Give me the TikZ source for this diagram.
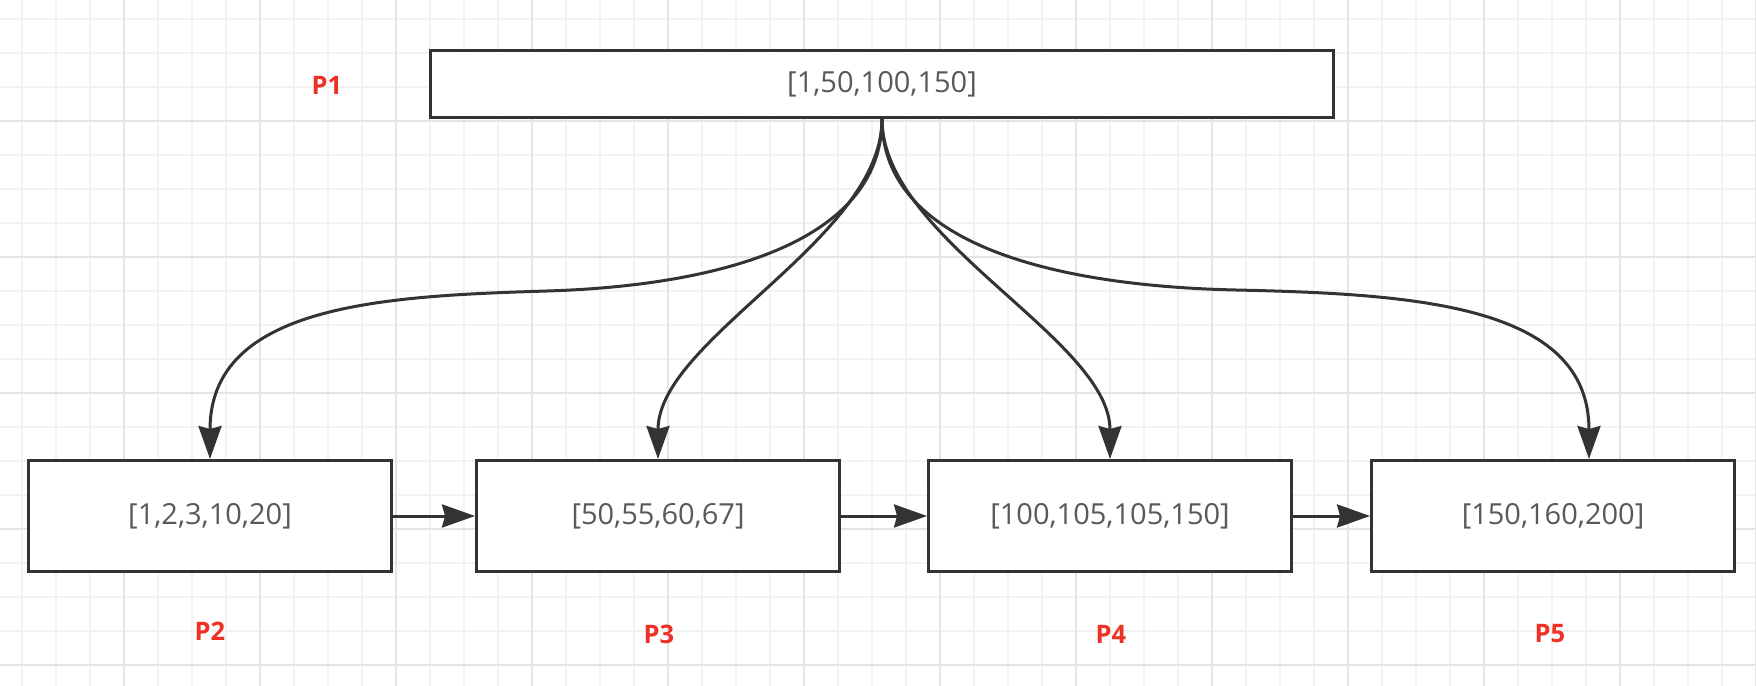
\documentclass[tikz,border=0pt]{standalone}
\usepackage{fontspec}
\setmainfont{Open Sans}
\usetikzlibrary{arrows.meta}
\definecolor{gridminor}{HTML}{F2F2F2}
\definecolor{gridmajor}{HTML}{E4E4E4}
\definecolor{edgegray}{HTML}{333333}
\definecolor{textgray}{HTML}{595959}
\definecolor{pagered}{HTML}{EE3124}
\tikzset{
  pagebox/.style={draw=edgegray, line width=0.06cm, fill=white, text=textgray,
    font=\fontsize{16.5}{20}\selectfont, inner sep=0pt},
  plabel/.style={text=pagered, font=\fontsize{14.5}{17}\selectfont\bfseries},
  link/.style={draw=edgegray, line width=0.06cm,
    -{Stealth[length=0.66cm,width=0.46cm,inset=0.06cm]}},
}
\begin{document}
\begin{tikzpicture}[x=0.02cm,y=-0.02cm]
\useasboundingbox (0,0) rectangle (1756,686);
\fill[white] (0,0) rectangle (1756,686);
\foreach \x in {22,56,...,1756} % minor grid
\draw[gridminor, line width=0.03cm] (\x,0) -- (\x,686);
\foreach \y in {19,53,...,686}
\draw[gridminor, line width=0.03cm] (0,\y) -- (1756,\y);
\foreach \x in {124,260,...,1756} % major grid
\draw[gridmajor, line width=0.03cm] (\x,0) -- (\x,686);
\foreach \y in {121,257,...,686}
\draw[gridmajor, line width=0.03cm] (0,\y) -- (1756,\y);
% pages
\node[pagebox, minimum width=18.08cm, minimum height=1.34cm] (p1) at (882,84) {[1,50,100,150]};
\node[pagebox, minimum width=7.26cm, minimum height=2.22cm] (b1) at (210,516) {[1,2,3,10,20]};
\node[pagebox, minimum width=7.26cm, minimum height=2.22cm] (b2) at (658,516) {[50,55,60,67]};
\node[pagebox, minimum width=7.26cm, minimum height=2.22cm] (b3) at (1110,516) {[100,105,105,150]};
\node[pagebox, minimum width=7.26cm, minimum height=2.22cm] (b4) at (1553,516) {[150,160,200]};
% labels
\node[plabel] (l1) at (327,85) {P1};
\node[plabel] (l2) at (210,631) {P2};
\node[plabel] (l3) at (659,634) {P3};
\node[plabel] (l4) at (1111,634) {P4};
\node[plabel] (l5) at (1550,634) {P5};
% links
\coordinate (m2) at (547,291);
\coordinate (m5) at (1236,290);
\coordinate (t5) at (1589,459);
\draw[link] (p1.south) .. controls +(0,126) and +(165,-5) .. (m2)
  .. controls +(-165,5) and +(0,-154) .. (b1.north);
\draw[link] (p1.south) .. controls +(0,120) and +(0,-120) .. (b2.north);
\draw[link] (p1.south) .. controls +(0,120) and +(0,-120) .. (b3.north);
\draw[link] (p1.south) .. controls +(0,126) and +(-180,-4) .. (m5)
  .. controls +(180,4) and +(0,-154) .. (t5);
\foreach \a/\b in {b1/b2,b2/b3,b3/b4}
\draw[link] (\a.east) -- (\b.west);
\end{tikzpicture}
\end{document}
